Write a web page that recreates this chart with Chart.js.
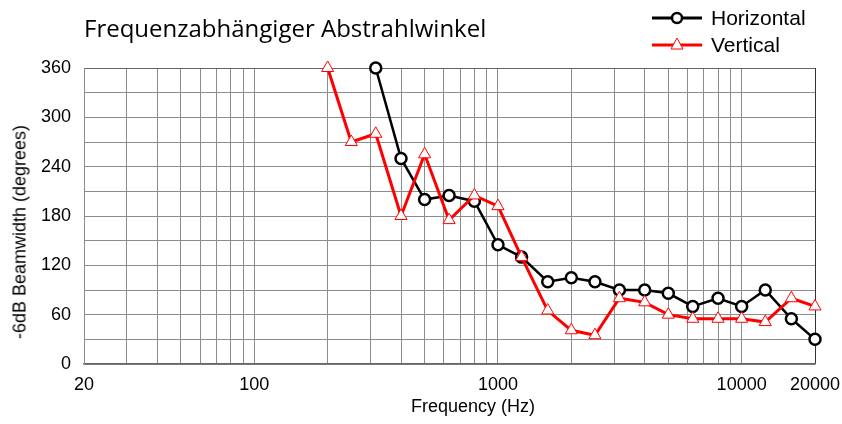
<!DOCTYPE html>
<html>
<head>
<meta charset="utf-8">
<script src="https://cdn.jsdelivr.net/npm/chart.js@4"></script>
<style>
  body { margin: 0; background: #fff; }
  #wrap { position: relative; width: 842px; height: 424px; }
  #chartTitle { position: absolute; left: 84px; top: 11px; font: 24px "Open Sans", sans-serif; color: #000; white-space: nowrap; }
  .legItem { position: absolute; left: 650px; height: 26px; font: 21px "Liberation Sans", Arial, sans-serif; color: #000; white-space: nowrap; }
  .legItem svg { vertical-align: middle; }
  .legItem span { vertical-align: middle; margin-left: 3px; }
  #xTitle { position: absolute; left: 411px; top: 396px; font: 18px "Liberation Sans", Arial, sans-serif; white-space: nowrap; }
  #yTitle { position: absolute; left: 20px; top: 232px; font: 18px "Liberation Sans", Arial, sans-serif; white-space: nowrap; transform: translate(-50%, -50%) rotate(-90deg); }
</style>
</head>
<body>
<div id="wrap">
  <canvas id="BeamChart" width="842" height="424"></canvas>
  <div id="chartTitle">Frequenzabhängiger Abstrahlwinkel</div>
  <div class="legItem" style="top:5px">
    <svg width="58" height="26"><line x1="2" y1="13" x2="52" y2="13" stroke="#000" stroke-width="3"/><circle cx="27" cy="13" r="5" fill="#fff" stroke="#000" stroke-width="2.5"/></svg><span>Horizontal</span>
  </div>
  <div class="legItem" style="top:32px">
    <svg width="58" height="26"><line x1="2" y1="13" x2="52" y2="13" stroke="#f00" stroke-width="3"/><polygon points="27,6 33,17 21,17" fill="#fff" stroke="#f00" stroke-width="1"/></svg><span>Vertical</span>
  </div>
  <div id="xTitle">Frequency (Hz)</div>
  <div id="yTitle">-6dB Beamwidth (degrees)</div>
</div>
<script>
// data
const hFreq = [315, 400, 500, 630, 800, 1000, 1250, 1600, 2000, 2500, 3150, 4000, 5000, 6300, 8000, 10000, 12500, 16000, 20000];
const hBeam = [360, 250, 200, 205, 198, 145, 130, 100, 105, 100, 90, 90, 86, 70, 80, 70, 90, 55, 30];
const vFreq = [200, 250, 315, 400, 500, 630, 800, 1000, 1250, 1600, 2000, 2500, 3150, 4000, 5000, 6300, 8000, 10000, 12500, 16000, 20000];
const vBeam = [360, 270, 280, 180, 255, 175, 205, 192, 130, 65, 41, 35, 80, 75, 60, 55, 55, 55, 51, 80, 70];

const gridFreqs = [20, 30, 40, 50, 60, 70, 80, 90, 100, 200, 300, 400, 500, 600, 700, 800, 900,
  1000, 2000, 3000, 4000, 5000, 6000, 7000, 8000, 9000, 10000, 20000];
const labeledFreqs = [20, 100, 1000, 10000, 20000];

const ctx = document.getElementById("BeamChart").getContext("2d");
const tickFont = { family: "Liberation Sans, Arial, sans-serif", size: 18 };

new Chart(ctx, {
  type: "line",
  data: {
    datasets: [
      {
        label: "Horizontal",
        data: hFreq.map((f, i) => ({ x: f, y: hBeam[i] })),
        borderColor: "#000",
        borderWidth: 2.5,
        pointStyle: "circle",
        pointRadius: 5.5,
        pointBorderWidth: 2.5,
        pointBorderColor: "#000",
        pointBackgroundColor: "#fff",
        tension: 0,
        clip: false,
        order: 1,
      },
      {
        label: "Vertical",
        data: vFreq.map((f, i) => ({ x: f, y: vBeam[i] })),
        borderColor: "#f00",
        borderWidth: 3,
        pointStyle: "triangle",
        pointRadius: 7,
        pointBorderWidth: 1,
        pointBorderColor: "#f00",
        pointBackgroundColor: "#fff",
        tension: 0,
        clip: false,
        order: 0,
      },
    ],
  },
  options: {
    responsive: false,
    animation: false,
    layout: { padding: { top: 68, right: 27, left: 0, bottom: 0 } },
    plugins: {
      legend: { display: false },
      tooltip: { enabled: false },
    },
    scales: {
      x: {
        type: "logarithmic",
        min: 20,
        max: 20000,
        afterBuildTicks: (scale) => {
          scale.ticks = gridFreqs.map((v) => ({ value: v }));
        },
        afterFit: (scale) => {
          scale.height = 60;
          scale.paddingLeft = 0;
          scale.paddingRight = 0;
        },
        grid: {
          drawTicks: false,
          color: (c) => (c.tick && c.tick.value === 20000 ? "#333" : "#8c8c8c"),
          lineWidth: 1,
        },
        border: { color: "#666", width: 1.5 },
        ticks: {
          autoSkip: false,
          maxRotation: 0,
          padding: 10,
          color: "#000",
          font: tickFont,
          callback: (v) => (labeledFreqs.includes(v) ? String(v) : ""),
        },
      },
      y: {
        min: 0,
        max: 360,
        afterFit: (scale) => { scale.width = 84; },
        grid: {
          drawTicks: false,
          color: (c) => (c.tick && c.tick.value === 360 ? "#666" : "#8c8c8c"),
          lineWidth: 1,
        },
        border: { color: "#8c8c8c", width: 1 },
        ticks: {
          stepSize: 30,
          padding: 13,
          color: "#000",
          font: tickFont,
          callback: (v) => (v % 60 === 0 ? String(v) : ""),
        },
      },
    },
  },
});
</script>
</body>
</html>
